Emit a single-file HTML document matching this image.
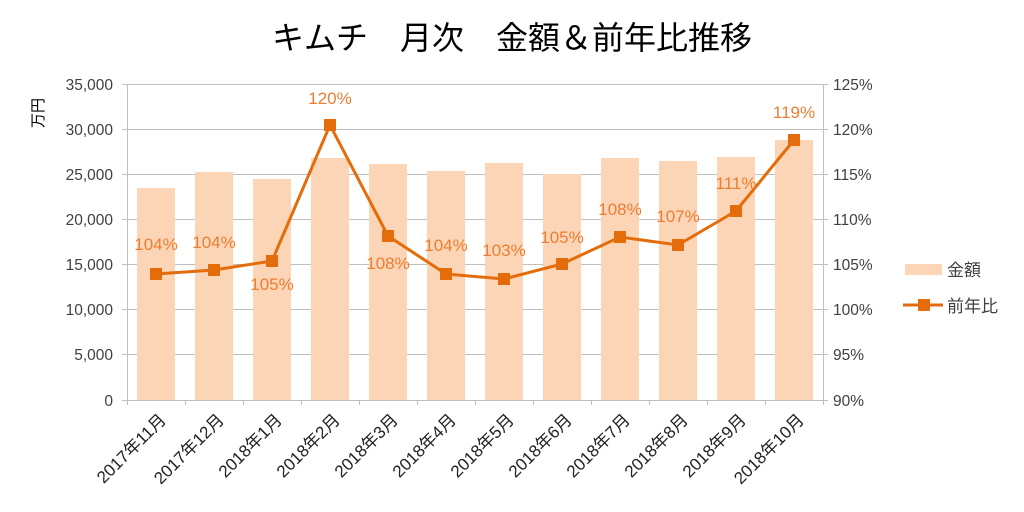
<!DOCTYPE html>
<html><head><meta charset="utf-8"><style>
body{margin:0;background:#fff}
svg{display:block}
text{font-family:"Liberation Sans","Noto Sans CJK JP",sans-serif}
</style></head><body>
<svg width="1024" height="512" viewBox="0 0 1024 512" xmlns="http://www.w3.org/2000/svg">
<text x="512" y="49" font-size="32" text-anchor="middle" fill="#000">キムチ　月次　金額＆前年比推移</text>
<g stroke="#bfbfbf" stroke-width="1">
<line x1="122" y1="84.5" x2="828" y2="84.5"/>
<line x1="122" y1="129.5" x2="828" y2="129.5"/>
<line x1="122" y1="174.5" x2="828" y2="174.5"/>
<line x1="122" y1="219.5" x2="828" y2="219.5"/>
<line x1="122" y1="264.5" x2="828" y2="264.5"/>
<line x1="122" y1="309.5" x2="828" y2="309.5"/>
<line x1="122" y1="354.5" x2="828" y2="354.5"/>
<line x1="122" y1="400.5" x2="828" y2="400.5"/>
<line x1="127.5" y1="84" x2="127.5" y2="405"/>
<line x1="823.5" y1="84" x2="823.5" y2="405"/>
<line x1="185.5" y1="400" x2="185.5" y2="405"/><line x1="243.5" y1="400" x2="243.5" y2="405"/>
<line x1="301.5" y1="400" x2="301.5" y2="405"/><line x1="359.5" y1="400" x2="359.5" y2="405"/>
<line x1="417.5" y1="400" x2="417.5" y2="405"/><line x1="475.5" y1="400" x2="475.5" y2="405"/>
<line x1="533.5" y1="400" x2="533.5" y2="405"/><line x1="591.5" y1="400" x2="591.5" y2="405"/>
<line x1="649.5" y1="400" x2="649.5" y2="405"/><line x1="707.5" y1="400" x2="707.5" y2="405"/>
<line x1="765.5" y1="400" x2="765.5" y2="405"/>
</g>
<g fill="#fbd5b5">
<rect x="137" y="188" width="38" height="212"/>
<rect x="195" y="172" width="38" height="228"/>
<rect x="253" y="179" width="38" height="221"/>
<rect x="311" y="158" width="38" height="242"/>
<rect x="369" y="164" width="38" height="236"/>
<rect x="427" y="171" width="38" height="229"/>
<rect x="485" y="163" width="38" height="237"/>
<rect x="543" y="174" width="38" height="226"/>
<rect x="601" y="158" width="38" height="242"/>
<rect x="659" y="161" width="38" height="239"/>
<rect x="717" y="157" width="38" height="243"/>
<rect x="775" y="140" width="38" height="260"/>
</g>
<polyline fill="none" stroke="#e46c0a" stroke-width="3" points="156,274 214,270 272,261 330,125 388,236 446,274 504,279 562,264 620,237 678,245 736,211 794,140"/>
<g fill="#e46c0a">
<rect x="150" y="268" width="12" height="12"/><rect x="208" y="264" width="12" height="12"/>
<rect x="266" y="255" width="12" height="12"/><rect x="324" y="119" width="12" height="12"/>
<rect x="382" y="230" width="12" height="12"/><rect x="440" y="268" width="12" height="12"/>
<rect x="498" y="273" width="12" height="12"/><rect x="556" y="258" width="12" height="12"/>
<rect x="614" y="231" width="12" height="12"/><rect x="672" y="239" width="12" height="12"/>
<rect x="730" y="205" width="12" height="12"/><rect x="788" y="134" width="12" height="12"/>
</g>
<g fill="#ed7d31" font-size="17" text-anchor="middle">
<text x="156" y="250">104%</text><text x="214" y="248">104%</text>
<text x="272" y="290">105%</text><text x="330" y="104">120%</text>
<text x="388" y="269">108%</text><text x="446" y="251">104%</text>
<text x="504" y="256">103%</text><text x="562" y="243">105%</text>
<text x="620" y="215">108%</text><text x="678" y="222">107%</text>
<text x="736" y="189">111%</text><text x="794" y="118">119%</text>
</g>
<g fill="#404040" font-size="15.5" text-anchor="end">
<text x="113" y="90">35,000</text><text x="113" y="135">30,000</text>
<text x="113" y="180">25,000</text><text x="113" y="225">20,000</text>
<text x="113" y="270">15,000</text><text x="113" y="315">10,000</text>
<text x="113" y="360">5,000</text><text x="113" y="406">0</text>
</g>
<g fill="#404040" font-size="15.5" text-anchor="start">
<text x="833" y="90">125%</text><text x="833" y="135">120%</text>
<text x="833" y="180">115%</text><text x="833" y="225">110%</text>
<text x="833" y="270">105%</text><text x="833" y="315">100%</text>
<text x="833" y="360">95%</text><text x="833" y="406">90%</text>
</g>
<text transform="translate(43,113) rotate(-90)" font-size="15" text-anchor="middle" fill="#000">万円</text>
<g fill="#222" font-size="17" text-anchor="end">
<text transform="translate(167,421) rotate(-45)">2017年11月</text>
<text transform="translate(225,421) rotate(-45)">2017年12月</text>
<text transform="translate(283,421) rotate(-45)">2018年1月</text>
<text transform="translate(341,421) rotate(-45)">2018年2月</text>
<text transform="translate(399,421) rotate(-45)">2018年3月</text>
<text transform="translate(457,421) rotate(-45)">2018年4月</text>
<text transform="translate(515,421) rotate(-45)">2018年5月</text>
<text transform="translate(573,421) rotate(-45)">2018年6月</text>
<text transform="translate(631,421) rotate(-45)">2018年7月</text>
<text transform="translate(689,421) rotate(-45)">2018年8月</text>
<text transform="translate(747,421) rotate(-45)">2018年9月</text>
<text transform="translate(805,421) rotate(-45)">2018年10月</text>
</g>
<rect x="905" y="264" width="37" height="11" fill="#fbd5b5"/>
<text x="947" y="276" font-size="17" fill="#404040">金額</text>
<line x1="903" y1="305" x2="943" y2="305" stroke="#e46c0a" stroke-width="3"/>
<rect x="918" y="299" width="12" height="12" fill="#e46c0a"/>
<text x="947" y="312" font-size="17" fill="#404040">前年比</text>
</svg>
</body></html>
